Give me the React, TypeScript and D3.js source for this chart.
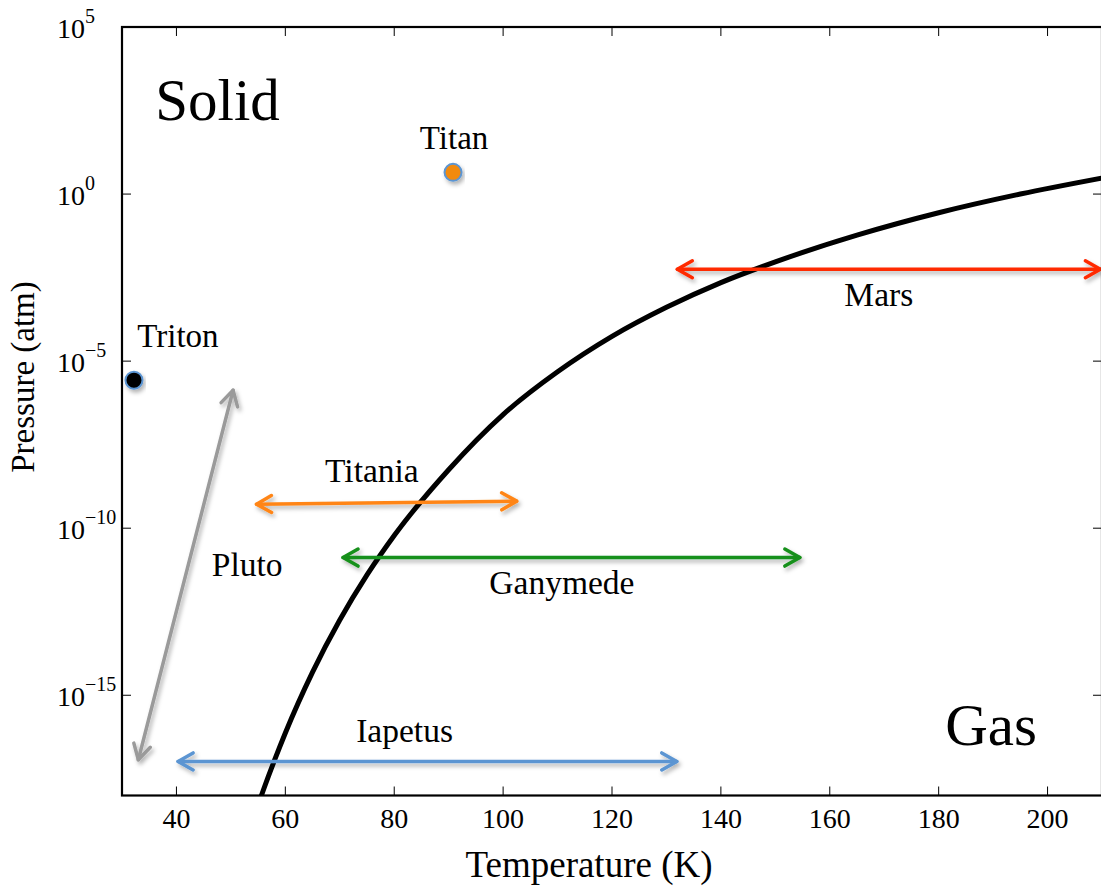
import React from "react";
import * as d3 from "d3";

// Sublimation curve samples: temperature (K) and log10 pressure (atm)
const curveT = [55, 56, 58, 60, 65, 70, 75, 80, 90, 100, 110, 120, 130, 140, 150, 165, 180, 195, 210];
const curveLogP = [-18.28, -17.82, -16.95, -16.13, -14.31, -12.75, -11.4, -10.22, -8.25, -6.6, -5.32, -4.26, -3.39, -2.65, -2.03, -1.23, -0.56, 0.0, 0.48];

// Temperature / pressure ranges of each body (arrow ends)
const rangeNames = ["Mars", "Titania", "Ganymede", "Iapetus", "Pluto"];
const rangeColors = ["#ff2a00", "#ff8515", "#17901a", "#5b95d2", "#9a9a9a"];
const rangeT0 = [132.0, 54.7, 70.6, 40.3, 33.0];
const rangeT1 = [209.7, 102.5, 154.5, 131.9, 50.4];
const rangeLogP0 = [-2.25, -9.28, -10.88, -16.98, -16.93];
const rangeLogP1 = [-2.25, -9.19, -10.88, -16.98, -5.87];
// Label anchors (T, log10 P, text-anchor)
const rangeLabelT = [169.0, 75.9, 110.8, 81.9, 46.5];
const rangeLabelLogP = [-3.34, -8.63, -11.96, -16.4, -11.44];
const rangeLabelAnchor = ["middle", "middle", "middle", "middle", "start"];

// Single-point bodies
const pointNames = ["Titan", "Triton"];
const pointFill = ["#f28a0f", "#000000"];
const pointT = [90.8, 32.2];
const pointLogP = [0.65, -5.57];
const pointLabelT = [91.0, 32.8];
const pointLabelLogP = [1.35, -4.58];
const pointLabelAnchor = ["middle", "start"];

// Phase region labels
const regionNames = ["Solid", "Gas"];
const regionT = [36.1, 181.2];
const regionLogP = [2.21, -16.5];

// Axes
const xTicks = [40, 60, 80, 100, 120, 140, 160, 180, 200];
const yTickExps = [5, 0, -5, -10, -15];

const W = 1101;
const H = 888;
const FONT = "'Liberation Serif', 'Times New Roman', serif";

export default function App() {
  const x = d3.scaleLinear().domain([30, 210]).range([122, 1102]);
  const y = d3.scaleLog().domain([1e-18, 1e5]).range([795.5, 27]);
  const [x0, x1] = x.range();
  const [y0, y1] = y.range();

  const curvePts = curveT.map((t, i) => [t, Math.pow(10, curveLogP[i])] as [number, number]);
  const line = d3
    .line<[number, number]>()
    .x((d) => x(d[0]))
    .y((d) => y(d[1]))
    .curve(d3.curveMonotoneX);

  const arrowHead = (tx: number, ty: number, fx: number, fy: number) => {
    // open chevron at (tx,ty) pointing away from (fx,fy)
    const ang = Math.atan2(ty - fy, tx - fx);
    const len = 15;
    const half = 8.5;
    const bx = tx - len * Math.cos(ang);
    const by = ty - len * Math.sin(ang);
    const px = -Math.sin(ang);
    const py = Math.cos(ang);
    return `M${bx + half * px},${by + half * py}L${tx},${ty}L${bx - half * px},${by - half * py}`;
  };

  return (
    <svg
      width={W}
      height={H}
      style={{ position: "absolute", left: 0, top: 0, background: "#fff" }}
      fontFamily={FONT}
    >
      <defs>
        <clipPath id="plot-area">
          <rect x={x0} y={y1} width={x1 - x0} height={y0 - y1} />
        </clipPath>
        <filter id="soft-shadow" x="-20%" y="-50%" width="140%" height="200%">
          <feDropShadow dx="2" dy="3" stdDeviation="2" floodColor="#000" floodOpacity="0.3" />
        </filter>
      </defs>

      {/* sublimation curve */}
      <path
        d={line(curvePts) ?? ""}
        fill="none"
        stroke="#000"
        strokeWidth={5}
        clipPath="url(#plot-area)"
      />

      {/* range arrows */}
      {rangeNames.map((name, i) => {
        const ax = x(rangeT0[i]);
        const ay = y(Math.pow(10, rangeLogP0[i]));
        const bx = x(rangeT1[i]);
        const by = y(Math.pow(10, rangeLogP1[i]));
        return (
          <g key={name} filter="url(#soft-shadow)" stroke={rangeColors[i]} strokeWidth={3.5} fill="none" strokeLinecap="round" strokeLinejoin="round">
            <line x1={ax} y1={ay} x2={bx} y2={by} />
            <path d={arrowHead(ax, ay, bx, by)} />
            <path d={arrowHead(bx, by, ax, ay)} />
          </g>
        );
      })}
      {rangeNames.map((name, i) => (
        <text
          key={name + "-label"}
          x={x(rangeLabelT[i])}
          y={y(Math.pow(10, rangeLabelLogP[i]))}
          fontSize={33.5}
          textAnchor={rangeLabelAnchor[i] as any}
          fill="#000"
        >
          {name}
        </text>
      ))}

      {/* point bodies */}
      {pointNames.map((name, i) => (
        <g key={name}>
          <circle
            cx={x(pointT[i])}
            cy={y(Math.pow(10, pointLogP[i]))}
            r={8.5}
            fill={pointFill[i]}
            stroke="#5b95d2"
            strokeWidth={2}
            filter="url(#soft-shadow)"
          />
          <text
            x={x(pointLabelT[i])}
            y={y(Math.pow(10, pointLabelLogP[i]))}
            fontSize={33}
            textAnchor={pointLabelAnchor[i] as any}
          >
            {name}
          </text>
        </g>
      ))}

      {/* phase regions */}
      {regionNames.map((name, i) => (
        <text key={name} x={x(regionT[i])} y={y(Math.pow(10, regionLogP[i]))} fontSize={59}>
          {name}
        </text>
      ))}

      {/* frame */}
      <rect x={x0} y={y1} width={x1 - x0} height={y0 - y1} fill="none" stroke="#000" strokeWidth={2.2} />

      {/* x ticks */}
      {xTicks.map((t) => (
        <g key={"xt" + t}>
          <line x1={x(t)} x2={x(t)} y1={y0} y2={y0 - 9} stroke="#000" strokeWidth={1} />
          <line x1={x(t)} x2={x(t)} y1={y1} y2={y1 + 9} stroke="#000" strokeWidth={1} />
          <text x={x(t)} y={828} fontSize={28} textAnchor="middle">
            {t}
          </text>
        </g>
      ))}

      {/* y ticks */}
      {yTickExps.map((e) => {
        const yy = y(Math.pow(10, e));
        return (
          <g key={"yt" + e}>
            <line x1={x0} x2={x0 + 9} y1={yy} y2={yy} stroke="#000" strokeWidth={1} />
            <line x1={x1} x2={x1 - 9} y1={yy} y2={yy} stroke="#000" strokeWidth={1} />
            <text x={57} y={yy + 10.5} fontSize={28}>
              10
              <tspan dy={-15} fontSize={20}>
                {e < 0 ? "\u2212" + Math.abs(e) : String(e)}
              </tspan>
            </text>
          </g>
        );
      })}

      {/* axis titles */}
      <text x={589} y={877} fontSize={37} textAnchor="middle">
        Temperature (K)
      </text>
      <text
        transform={`translate(34, 377) rotate(-90)`}
        fontSize={33}
        textAnchor="middle"
      >
        Pressure (atm)
      </text>
    </svg>
  );
}
